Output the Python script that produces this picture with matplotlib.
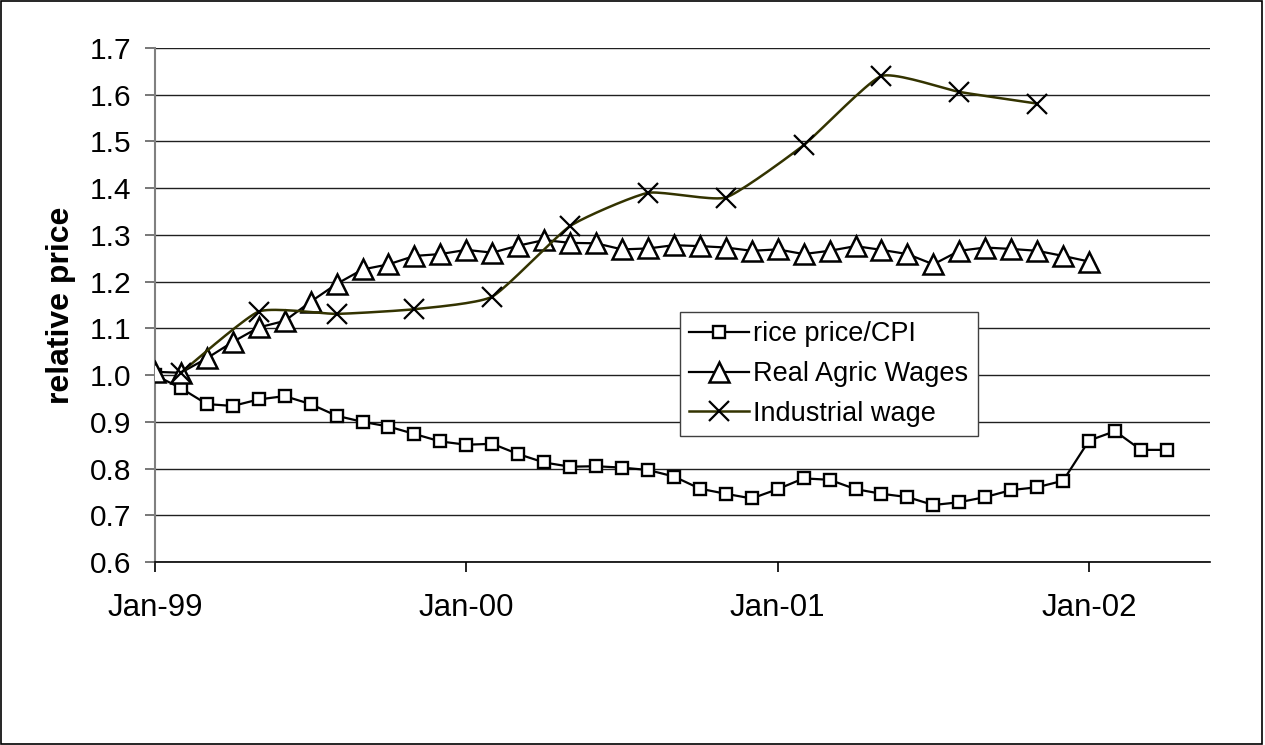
import numpy as np
import pandas as pd
import matplotlib
matplotlib.use("Agg")
import matplotlib.pyplot as plt
from matplotlib.lines import Line2D
from matplotlib.patches import Rectangle

plt.rcParams['font.family'] = ['Liberation Sans', 'DejaVu Sans']

# data (monthly, starting Jan-99)
rice_start = '1999-01'
rice_cpi = [1.00, 0.972, 0.938, 0.934, 0.948, 0.955, 0.938, 0.913, 0.900, 0.890,
            0.874, 0.858, 0.851, 0.853, 0.831, 0.813, 0.804, 0.805, 0.802, 0.797,
            0.783, 0.757, 0.746, 0.736, 0.756, 0.779, 0.776, 0.756, 0.746, 0.739,
            0.722, 0.728, 0.739, 0.754, 0.760, 0.774, 0.860, 0.880, 0.840, 0.840]

agric_start = '1999-01'
agric_wage = [1.007, 1.005, 1.036, 1.071, 1.102, 1.116, 1.157, 1.195, 1.226, 1.237,
              1.255, 1.259, 1.268, 1.262, 1.277, 1.289, 1.283, 1.282, 1.269, 1.271,
              1.278, 1.276, 1.273, 1.266, 1.269, 1.259, 1.266, 1.276, 1.268, 1.259,
              1.237, 1.266, 1.273, 1.270, 1.266, 1.255, 1.243]

# industrial wage is quarterly, Feb-99 .. Nov-01
ind_dates = ['1999-02', '1999-05', '1999-08', '1999-11', '2000-02', '2000-05',
             '2000-08', '2000-11', '2001-02', '2001-05', '2001-08', '2001-11']
ind_wage = [1.005, 1.136, 1.131, 1.141, 1.168, 1.319, 1.390, 1.380, 1.492, 1.640,
            1.606, 1.581]

tick_dates = ['1999-01', '2000-01', '2001-01', '2002-01']
labels = ['rice price/CPI', 'Real Agric Wages', 'Industrial wage']


def month_index(d):
    d = pd.to_datetime(d)
    return (d.year - 1999) * 12 + d.month - 1


def smooth(x, y, n=20, k=12.0):
    # gentle bezier smoothing, roughly like excel's smoothed line
    x = np.asarray(x, float)
    y = np.asarray(y, float)
    px = np.r_[x[0], x, x[-1]]
    py = np.r_[y[0], y, y[-1]]
    xs, ys = [], []
    t = np.linspace(0, 1, n)
    for i in range(1, len(px) - 2):
        p0, p1, p2, p3 = (np.array([px[j], py[j]]) for j in range(i - 1, i + 3))
        c1 = p1 + (p2 - p0) / k
        c2 = p2 - (p3 - p1) / k
        b = ((1 - t) ** 3)[:, None] * p1 + (3 * (1 - t) ** 2 * t)[:, None] * c1 \
            + (3 * (1 - t) * t ** 2)[:, None] * c2 + (t ** 3)[:, None] * p2
        xs.extend(b[:, 0])
        ys.extend(b[:, 1])
    return xs, ys


x_rice = month_index(pd.date_range(rice_start, periods=len(rice_cpi), freq='MS'))
x_agric = month_index(pd.date_range(agric_start, periods=len(agric_wage), freq='MS'))
x_ind = month_index(pd.to_datetime(ind_dates))
x_ticks = month_index(pd.to_datetime(tick_dates))

fig = plt.figure(figsize=(12.65, 7.45), dpi=100)
ax = fig.add_axes([0.1225, 0.2456, 0.834, 0.69])

ax.set_ylim(0.6, 1.7)
ax.set_xlim(0, 40.66)
ax.set_yticks(np.arange(0.6, 1.71, 0.1))
ax.set_yticklabels(['%.1f' % v for v in np.arange(0.6, 1.71, 0.1)])
ax.set_xticks(x_ticks)
ax.set_xticklabels(pd.to_datetime(tick_dates).strftime('%b-%y'))

ax.grid(axis='y', color='#202020', linewidth=1.0)
ax.set_axisbelow(True)
for s in ['top', 'right']:
    ax.spines[s].set_visible(False)
ax.spines['left'].set_color('#808080')
ax.spines['left'].set_linewidth(1.5)
ax.spines['bottom'].set_color('black')
ax.spines['bottom'].set_linewidth(1.2)

ax.tick_params(axis='y', length=7, width=1.2, color='#606060', labelsize=21.5, pad=10)
ax.tick_params(axis='x', length=7, width=1.2, color='black', labelsize=22.5, pad=15)

ax.set_ylabel('relative price', fontsize=23, fontweight='bold', labelpad=10)

ax.plot(x_rice, rice_cpi, color='black', linewidth=1.6, marker='s', markersize=8.5,
        markerfacecolor='white', markeredgecolor='black', markeredgewidth=1.7, zorder=3)
ax.plot(x_agric, agric_wage, color='black', linewidth=1.6, marker='^', markersize=14,
        markerfacecolor='white', markeredgecolor='black', markeredgewidth=1.8, zorder=4)
sx, sy = smooth(x_ind, ind_wage)
ax.plot(sx, sy, color='#333300', linewidth=1.8, zorder=5)
ax.plot(x_ind, ind_wage, linestyle='none', marker='x', markersize=14,
        markeredgecolor='black', markeredgewidth=1.6, zorder=6)

handles = [
    Line2D([], [], color='black', linewidth=1.6, marker='s', markersize=8.5,
           markerfacecolor='white', markeredgecolor='black', markeredgewidth=1.7),
    Line2D([], [], color='black', linewidth=1.6, marker='^', markersize=14,
           markerfacecolor='white', markeredgecolor='black', markeredgewidth=1.8),
    Line2D([], [], color='#333300', linewidth=1.8, marker='x', markersize=14,
           markeredgecolor='black', markeredgewidth=1.6),
]
leg = ax.legend(handles, labels, loc='upper left', bbox_to_anchor=(0.4976, 0.4864),
                borderaxespad=0, fontsize=19.5, handlelength=2.2, handletextpad=0.15,
                labelspacing=0.5, borderpad=0.35, fancybox=False, framealpha=1,
                edgecolor='#404040')
leg.get_frame().set_linewidth(1.0)
leg.set_zorder(10)

fig.patches.append(Rectangle((0.001, 0.002), 0.997, 0.996, transform=fig.transFigure,
                             fill=False, edgecolor='black', linewidth=1.2))

fig.savefig('out.png', dpi=100)
